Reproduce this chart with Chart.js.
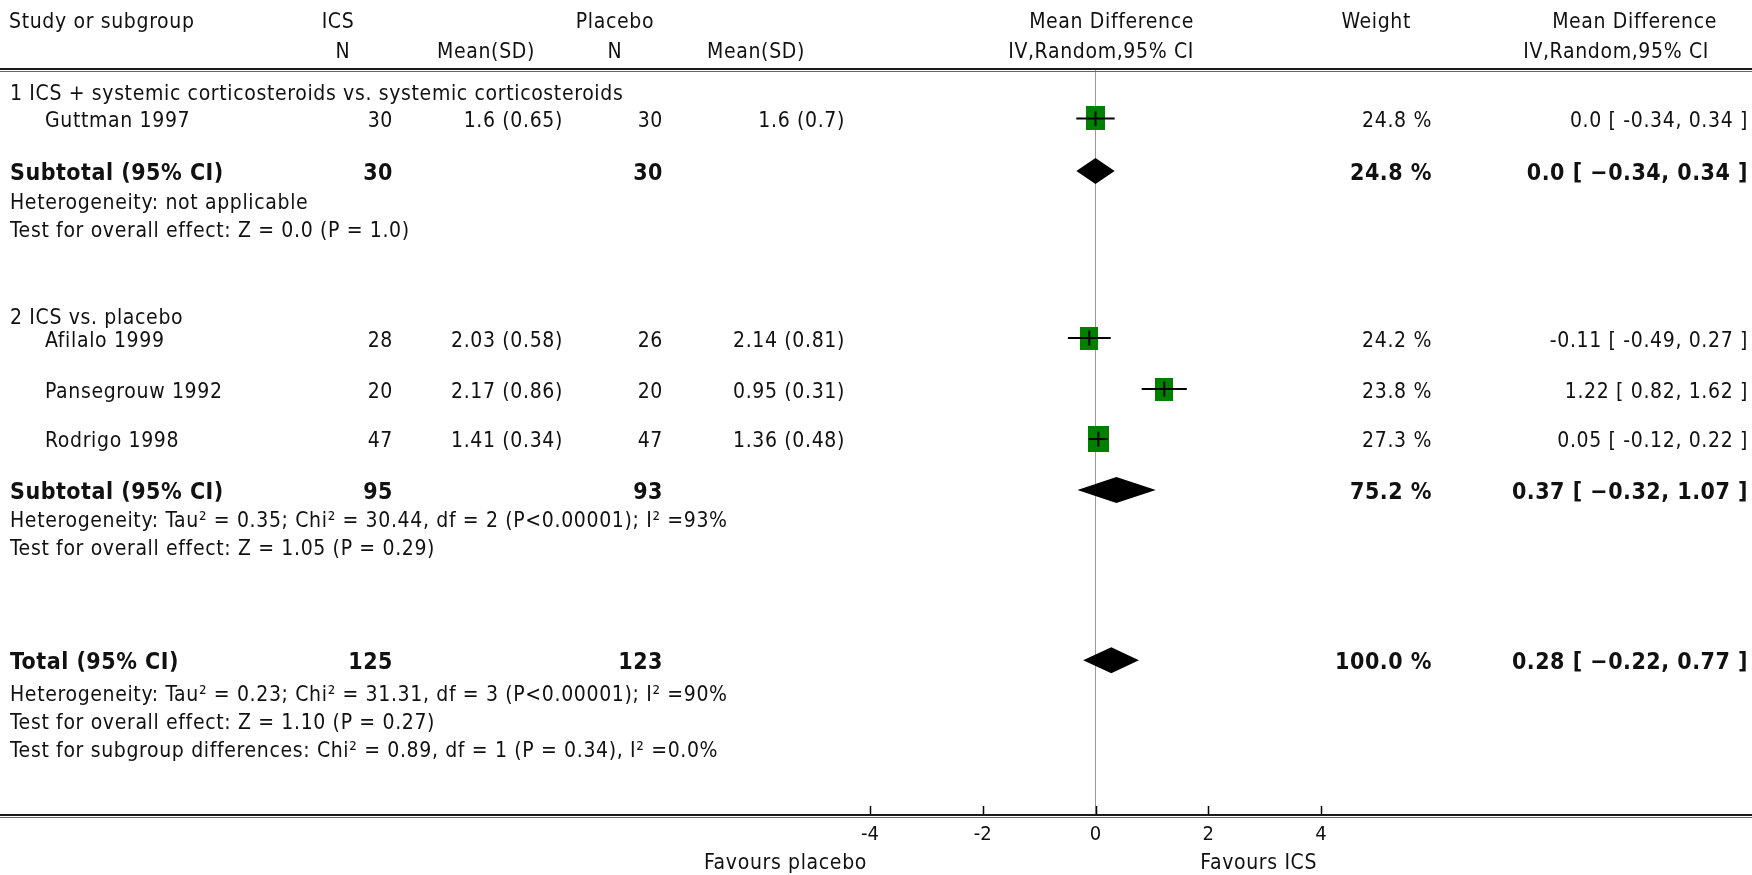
<!DOCTYPE html>
<html>
<head>
<meta charset="utf-8">
<script src="https://cdn.jsdelivr.net/npm/chart.js@4.4.1/dist/chart.umd.min.js"></script>
<style>
  html, body { margin: 0; padding: 0; background: #fff; }
  canvas { display: block; }
</style>
</head>
<body>
<canvas id="forest" width="1752" height="875"></canvas>
<script>
// ---- data ----
const studyNames = ['Guttman 1997', 'Afilalo 1999', 'Pansegrouw 1992', 'Rodrigo 1998'];
const icsN = [30, 28, 20, 47];
const icsMean = [1.6, 2.03, 2.17, 1.41];
const icsSD = [0.65, 0.58, 0.86, 0.34];
const placeboN = [30, 26, 20, 47];
const placeboMean = [1.6, 2.14, 0.95, 1.36];
const placeboSD = [0.7, 0.81, 0.31, 0.48];
const studyMD = [0.0, -0.11, 1.22, 0.05];
const studyLow = [-0.34, -0.49, 0.82, -0.12];
const studyHigh = [0.34, 0.27, 1.62, 0.22];
const studyWeight = [24.8, 24.2, 23.8, 27.3];

const poolLabels = ['Subtotal (95% CI)', 'Subtotal (95% CI)', 'Total (95% CI)'];
const poolIcsN = [30, 95, 125];
const poolPlaceboN = [30, 93, 123];
const poolMD = [0.0, 0.37, 0.28];
const poolLow = [-0.34, -0.32, -0.22];
const poolHigh = [0.34, 1.07, 0.77];
const poolWeight = [24.8, 75.2, 100.0];

const groupLabels = ['1 ICS + systemic corticosteroids vs. systemic corticosteroids', '2 ICS vs. placebo'];
const heterogeneity = [
  'Heterogeneity: not applicable',
  'Heterogeneity: Tau\u00b2 = 0.35; Chi\u00b2 = 30.44, df = 2 (P<0.00001); I\u00b2 =93%',
  'Heterogeneity: Tau\u00b2 = 0.23; Chi\u00b2 = 31.31, df = 3 (P<0.00001); I\u00b2 =90%'
];
const overallEffect = [
  'Test for overall effect: Z = 0.0 (P = 1.0)',
  'Test for overall effect: Z = 1.05 (P = 0.29)',
  'Test for overall effect: Z = 1.10 (P = 0.27)'
];
const subgroupTest = 'Test for subgroup differences: Chi\u00b2 = 0.89, df = 1 (P = 0.34), I\u00b2 =0.0%';

const headerTop = ['Study or subgroup', 'ICS', 'Placebo', 'Mean Difference', 'Weight', 'Mean Difference'];
const headerBottom = ['N', 'Mean(SD)', 'N', 'Mean(SD)', 'IV,Random,95% CI', 'IV,Random,95% CI'];
const xTicks = [-4, -2, 0, 2, 4];
const favours = ['Favours placebo', 'Favours ICS'];

// ---- layout (row units on the y scale, pixels across) ----
const groupRow = [0.86, 9.61];
const studyRow = [1.9, 10.51, 12.51, 14.47];
const poolRow = [3.96, 16.47, 23.14];
const hetRow = [5.1, 17.57, 24.39];
const effectRow = [6.2, 18.7, 25.49];
const subgroupRow = 26.59;
const headRows = [-1.96, -0.82];
const TEXT_DROP = 3; // glyphs sit a little below the marks

const headerTopPos = [[9, 'left'], [338, 'center'], [615, 'center'], [1194, 'right'], [1411, 'right'], [1717, 'right']];
const headerBottomPos = [[343, 'center'], [535, 'right'], [615, 'center'], [805, 'right'], [1194, 'right'], [1709, 'right']];
const col = { left: 10, indent: 45, icsN: 393, icsMean: 563, plN: 663, plMean: 845, weight: 1432, ci: 1748 };

const FAMILY = '"DejaVu Sans Condensed", "DejaVu Sans", sans-serif';
const regular = `21px ${FAMILY}`;
const bold = `bold 23px ${FAMILY}`;

const fmt = v => (v === 0 ? '0.0' : v.toFixed(2));
const ciText = (m, l, h) => `${fmt(m)} [ ${fmt(l)}, ${fmt(h)} ]`;

function makeBox(w) {
  const c = document.createElement('canvas');
  c.width = Math.round(0.76 * w);
  c.height = Math.round(0.96 * w);
  const g = c.getContext('2d');
  g.fillStyle = '#008000';
  g.fillRect(0, 0, c.width, c.height);
  return c;
}
const boxes = studyWeight.map(makeBox);

const studyPoints = studyMD.map((m, i) => ({ x: m, y: studyRow[i] }));

const datasets = [
  {
    data: studyPoints,
    pointStyle: c => boxes[c.dataIndex],
    pointRadius: 10,
    order: 3
  },
  ...studyNames.map((n, i) => ({
    data: [{ x: studyLow[i], y: studyRow[i] }, { x: studyHigh[i], y: studyRow[i] }],
    showLine: true,
    borderColor: '#000',
    borderWidth: 2,
    pointRadius: 0,
    order: 1
  })),
  {
    data: studyPoints,
    pointStyle: 'line',
    rotation: 90,
    pointRadius: 7.5,
    borderColor: '#000',
    borderWidth: 2,
    order: 0
  }
];

function text(ctx, str, x, y, align, font) {
  ctx.font = font;
  ctx.letterSpacing = font === bold ? '0.5px' : '0.65px';
  ctx.textAlign = align;
  ctx.fillText(str, x, y + TEXT_DROP);
}

const forestPlugin = {
  id: 'forest',
  afterDatasetsDraw(chart) {
    const { ctx, scales: { x, y } } = chart;
    ctx.save();
    ctx.fillStyle = '#000';
    poolMD.forEach((m, i) => {
      const yc = y.getPixelForValue(poolRow[i]);
      const h = 13;
      ctx.beginPath();
      ctx.moveTo(x.getPixelForValue(poolLow[i]), yc);
      ctx.lineTo(x.getPixelForValue(m), yc - h);
      ctx.lineTo(x.getPixelForValue(poolHigh[i]), yc);
      ctx.lineTo(x.getPixelForValue(m), yc + h);
      ctx.closePath();
      ctx.fill();
    });
    ctx.restore();
  },
  afterDraw(chart) {
    const { ctx, width, scales: { x, y } } = chart;
    ctx.save();
    ctx.fillStyle = '#111';
    ctx.textBaseline = 'middle';

    headerTop.forEach((t, i) => text(ctx, t, headerTopPos[i][0], y.getPixelForValue(headRows[0]), headerTopPos[i][1], regular));
    headerBottom.forEach((t, i) => text(ctx, t, headerBottomPos[i][0], y.getPixelForValue(headRows[1]), headerBottomPos[i][1], regular));

    groupLabels.forEach((t, i) => text(ctx, t, col.left, y.getPixelForValue(groupRow[i]), 'left', regular));

    studyNames.forEach((n, i) => {
      const yy = y.getPixelForValue(studyRow[i]);
      text(ctx, n, col.indent, yy, 'left', regular);
      text(ctx, String(icsN[i]), col.icsN, yy, 'right', regular);
      text(ctx, `${icsMean[i]} (${icsSD[i]})`, col.icsMean, yy, 'right', regular);
      text(ctx, String(placeboN[i]), col.plN, yy, 'right', regular);
      text(ctx, `${placeboMean[i]} (${placeboSD[i]})`, col.plMean, yy, 'right', regular);
      text(ctx, `${studyWeight[i].toFixed(1)} %`, col.weight, yy, 'right', regular);
      text(ctx, ciText(studyMD[i], studyLow[i], studyHigh[i]), col.ci, yy, 'right', regular);
    });

    poolLabels.forEach((t, i) => {
      const yy = y.getPixelForValue(poolRow[i]);
      text(ctx, t, col.left, yy, 'left', bold);
      text(ctx, String(poolIcsN[i]), col.icsN, yy, 'right', bold);
      text(ctx, String(poolPlaceboN[i]), col.plN, yy, 'right', bold);
      text(ctx, `${poolWeight[i].toFixed(1)} %`, col.weight, yy, 'right', bold);
      text(ctx, ciText(poolMD[i], poolLow[i], poolHigh[i]).replace(/-/g, '\u2212'), col.ci, yy, 'right', bold);
      text(ctx, heterogeneity[i], col.left, y.getPixelForValue(hetRow[i]), 'left', regular);
      text(ctx, overallEffect[i], col.left, y.getPixelForValue(effectRow[i]), 'left', regular);
    });
    text(ctx, subgroupTest, col.left, y.getPixelForValue(subgroupRow), 'left', regular);

    // header rule and axis rule, full width
    const ruleTop = chart.chartArea.top;
    const ruleBottom = chart.chartArea.bottom;
    [ruleTop, ruleBottom].forEach(r => {
      ctx.fillStyle = '#1a1a1a';
      ctx.fillRect(0, r - 2, width, 2);
      ctx.fillStyle = '#666';
      ctx.fillRect(0, r + 1, width, 1);
    });

    // tick marks standing on the axis
    ctx.strokeStyle = '#000';
    ctx.lineWidth = 1.5;
    x.ticks.forEach(t => {
      const px = Math.round(x.getPixelForValue(t.value)) + 0.5;
      ctx.beginPath();
      ctx.moveTo(px, ruleBottom - 2);
      ctx.lineTo(px, ruleBottom - 10);
      ctx.stroke();
    });

    ctx.fillStyle = '#111';
    const fy = ruleBottom + 45;
    text(ctx, favours[0], x.getPixelForValue(-4) - 3, fy, 'right', regular);
    text(ctx, favours[1], x.getPixelForValue(1.86), fy, 'left', regular);
    ctx.restore();
  }
};

new Chart(document.getElementById('forest'), {
  type: 'scatter',
  data: { datasets },
  options: {
    responsive: false,
    animation: false,
    devicePixelRatio: 1,
    layout: { padding: { left: 870, right: 431, top: 70, bottom: 0 } },
    plugins: { legend: { display: false }, tooltip: { enabled: false } },
    scales: {
      x: {
        type: 'linear',
        min: -4,
        max: 4,
        afterBuildTicks: s => { s.ticks = xTicks.map(v => ({ value: v })); },
        afterFit: s => { s.height = 59; },
        border: { display: false },
        grid: {
          drawTicks: false,
          lineWidth: 1,
          color: c => (c.tick && c.tick.value === 0 ? '#9a9a9a' : 'rgba(0,0,0,0)')
        },
        ticks: { color: '#111', font: { family: FAMILY, size: 20 }, padding: 7 }
      },
      y: { type: 'linear', min: 0, max: 29.25, reverse: true, display: false }
    }
  },
  plugins: [forestPlugin]
});
</script>
</body>
</html>
